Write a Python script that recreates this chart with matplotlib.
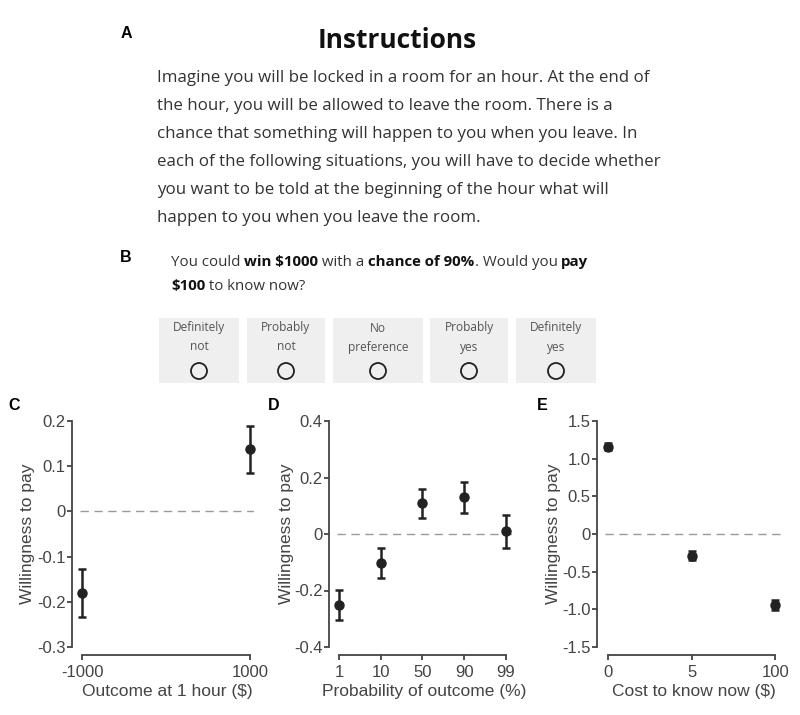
import matplotlib
matplotlib.use("Agg")
import matplotlib.pyplot as plt
from matplotlib.patches import Rectangle, Circle

plt.rcParams['font.family'] = ['Liberation Sans', 'DejaVu Sans']

# ---------------- data ----------------
c_labels = ["-1000", "1000"]
c_x = [-1000, 1000]
c_mean = [-0.18, 0.137]
c_err = [0.053, 0.053]

d_labels = ["1", "10", "50", "90", "99"]
d_mean = [-0.252, -0.104, 0.108, 0.130, 0.010]
d_err = [0.053, 0.053, 0.052, 0.055, 0.058]

e_labels = ["0", "5", "100"]
e_mean = [1.16, -0.29, -0.94]
e_err = [0.05, 0.06, 0.07]

instr_lines = [
    "Imagine you will be locked in a room for an hour. At the end of",
    "the hour, you will be allowed to leave the room. There is a",
    "chance that something will happen to you when you leave. In",
    "each of the following situations, you will have to decide whether",
    "you want to be told at the beginning of the hour what will",
    "happen to you when you leave the room.",
]
question_runs = [
    [("You could ", False), ("win $1000", True), (" with a ", False),
     ("chance of 90%", True), (". Would you ", False), ("pay", True)],
    [("$100", True), (" to know now?", False)],
]
options = [("Definitely", "not"), ("Probably", "not"), ("No", "preference"),
           ("Probably", "yes"), ("Definitely", "yes")]

W, H = 800, 715
fig = plt.figure(figsize=(W / 100, H / 100), dpi=100)
fig.patch.set_facecolor("white")

# overlay in pixel coordinates
ov = fig.add_axes([0, 0, 1, 1])
ov.set_xlim(0, W)
ov.set_ylim(H, 0)
ov.axis("off")

ov.text(126, 33, "A", fontsize=11.5, fontweight="bold", ha="center", va="center")
ov.text(397, 40, "Instructions", fontsize=19, fontweight="bold", family=['Open Sans'],
        ha="center", va="center", color="#111111")
for i, line in enumerate(instr_lines):
    ov.text(157, 78 + 28 * i, line, fontsize=12.2, family=['Open Sans'],
            ha="left", va="center", color="#333333")

ov.text(126, 257, "B", fontsize=11.5, fontweight="bold", ha="center", va="center")

fig.canvas.draw()
renderer = fig.canvas.get_renderer()
inv = ov.transData.inverted()
for li, runs in enumerate(question_runs):
    x = 171
    y = 262 + 24 * li
    for s, bold in runs:
        t = ov.text(x, y, s, fontsize=10.8, family=['Open Sans'],
                    fontweight="bold" if bold else "normal",
                    ha="left", va="center", color="#111111" if bold else "#333333")
        bb = t.get_window_extent(renderer=renderer)
        x = inv.transform((bb.x1, bb.y0))[0]

boxes = [(159, 239), (247, 325), (333, 423), (430, 508), (516, 596)]
for (x0, x1), (l1, l2) in zip(boxes, options):
    ov.add_patch(Rectangle((x0, 318), x1 - x0, 65, facecolor="#efefef", edgecolor="none"))
    cx = (x0 + x1) / 2
    ov.text(cx, 328, l1, fontsize=8.6, family=['Open Sans'], ha="center", va="center", color="#555555")
    ov.text(cx, 347, l2, fontsize=8.6, family=['Open Sans'], ha="center", va="center", color="#555555")
    ov.add_patch(Circle((cx, 371), 8, facecolor="none", edgecolor="#222222", lw=1.3))

# ---------------- panels ----------------
def px_axes(left, right, top, bottom):
    return fig.add_axes([left / W, 1 - bottom / H, (right - left) / W, (bottom - top) / H])

def style(ax, ylim, yticks, yticklabels, xticks, xticklabels, xlabel, ylab_px, left, width):
    ax.set_facecolor("none")
    for s in ["top", "right"]:
        ax.spines[s].set_visible(False)
    for s in ["left", "bottom"]:
        ax.spines[s].set_position(("outward", 6))
        ax.spines[s].set_color("#444444")
        ax.spines[s].set_linewidth(1.3)
    ax.set_ylim(*ylim)
    ax.set_yticks(yticks)
    ax.set_yticklabels(yticklabels)
    ax.set_xticks(xticks)
    ax.set_xticklabels(xticklabels)
    ax.spines["bottom"].set_bounds(xticks[0], xticks[-1])
    ax.tick_params(colors="#444444", labelcolor="#444444", labelsize=12, length=3.5, width=1.3)
    ax.tick_params(axis="y", pad=1)
    ax.set_xlabel(xlabel, fontsize=12.5, color="#444444", labelpad=3)
    ax.set_ylabel("Willingness to pay", fontsize=12.5, color="#444444")
    ax.yaxis.set_label_coords((ylab_px - left) / width, 0.5)

def draw(ax, x, m, e, xlim):
    ax.set_xlim(*xlim)
    ax.axhline(0, color="#999999", lw=1, ls=(0, (6, 4)), zorder=1)
    ax.errorbar(x, m, yerr=e, fmt="o", color="#222222", ms=6.5, capsize=3,
                elinewidth=1.8, capthick=1.8, zorder=3, clip_on=False)

axC = px_axes(80, 254, 421, 647)
draw(axC, c_x, c_mean, c_err, (-1025, 1048))
style(axC, (-0.3, 0.2), [-0.3, -0.2, -0.1, 0, 0.1, 0.2],
      ["-0.3", "-0.2", "-0.1", "0", "0.1", "0.2"], c_x, c_labels,
      "Outcome at 1 hour ($)", 35, 80, 174)

axD = px_axes(337, 512, 421, 647)
dx = list(range(len(d_labels)))
draw(axD, dx, d_mean, d_err, (-0.05, 4.15))
style(axD, (-0.4, 0.4), [-0.4, -0.2, 0, 0.2, 0.4],
      ["-0.4", "-0.2", "0", "0.2", "0.4"], dx, d_labels,
      "Probability of outcome (%)", 294, 337, 175)

axE = px_axes(605, 782, 421, 647)
ex = list(range(len(e_labels)))
draw(axE, ex, e_mean, e_err, (-0.04, 2.08))
style(axE, (-1.5, 1.5), [-1.5, -1.0, -0.5, 0, 0.5, 1.0, 1.5],
      ["-1.5", "-1.0", "-0.5", "0", "0.5", "1.0", "1.5"], ex, e_labels,
      "Cost to know now ($)", 561, 605, 177)

ov.text(14, 405, "C", fontsize=11.5, fontweight="bold", ha="center", va="center")
ov.text(274, 405, "D", fontsize=11.5, fontweight="bold", ha="center", va="center")
ov.text(542, 405, "E", fontsize=11.5, fontweight="bold", ha="center", va="center")

fig.savefig("out.png", dpi=100, facecolor="white")
